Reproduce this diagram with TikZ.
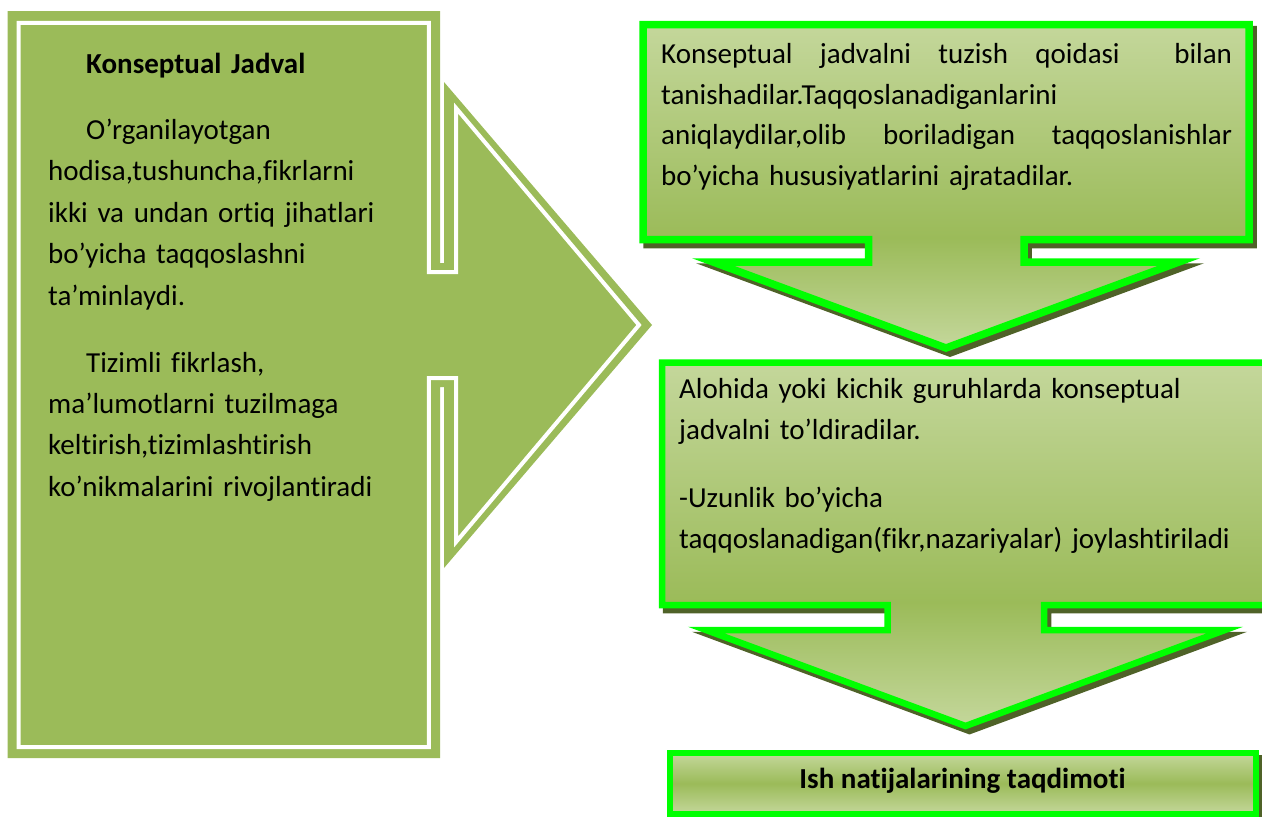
\documentclass[tikz,border=0pt]{standalone}
\usepackage{fontspec}
\setmainfont{Carlito}[Ligatures={NoCommon}]
\definecolor{cLight}{HTML}{C4D79B}
\definecolor{cDark}{HTML}{9BBB59}
\definecolor{cShadow}{HTML}{4F6228}
\definecolor{cLine}{HTML}{00FF00}
\pgfdeclareverticalshading{calloutshade}{100bp}{color(0bp)=(cLight); color(25bp)=(cLight); color(42bp)=(cDark); color(75bp)=(cLight); color(100bp)=(cLight)}
\tikzset{
  calloutfill/.style={shade, shading=calloutshade, draw=cLine, line join=miter},
  calloutshadow/.style={fill=cShadow, draw=cShadow, line join=miter},
  txt/.style={inner sep=0pt, anchor=base west, align=left},
  topshape/.style={insert path={(643,24.5) -- (1249,24.5) -- (1249,239.5) -- (1024,239.5) -- (1024,262) -- (1179,262) -- (946,348) -- (713,262) -- (868.5,262) -- (868.5,239.5) -- (643,239.5) -- cycle}},
  midshape/.style={insert path={(662,362.5) -- (1269,362.5) -- (1269,605) -- (1044,605) -- (1044,630) -- (1225,630) -- (965.5,726) -- (706,630) -- (887.5,630) -- (887.5,605) -- (662,605) -- cycle}},
}
\begin{document}
\begin{tikzpicture}[x=1pt,y=-1pt]
\useasboundingbox (0,0) rectangle (1262,817);
\clip (0,0) rectangle (1262,817);

% left arrow callout
\fill[cDark] (7.7,11) -- (440,11) -- (440,263) -- (444,263) -- (444,82) -- (652,325) -- (444,568) -- (444,387) -- (440,387) -- (440,758) -- (7.7,758) -- cycle;
\draw[white, line width=4pt, line join=miter] (18.7,22.8) -- (428.8,22.8) -- (428.8,272) -- (456,272) -- (456,108) -- (639,325) -- (456,542) -- (456,378) -- (428.8,378) -- (428.8,747) -- (18.7,747) -- cycle;

\node[txt, text width=380pt, font=\fontsize{29}{41.4}\selectfont] (lt) at (48,73)
 {\hspace*{38pt}\textbf{Konseptual Jadval}\\[25pt]
  \hspace*{38pt}O’rganilayotgan\\
  hodisa,tushuncha,fikrlarni\\
  ikki va undan ortiq jihatlari\\
  bo’yicha taqqoslashni\\
  ta’minlaydi.\\[25.6pt]
  \hspace*{38pt}Tizimli fikrlash,\\
  ma’lumotlarni tuzilmaga\\
  keltirish,tizimlashtirish\\
  ko’nikmalarini rivojlantiradi};

% top down-arrow callout
\path[calloutshadow, line width=7.5pt, shift={(4,5)}, topshape];
\path[calloutfill, line width=7.5pt, topshape];
\node[txt, text width=575pt, font=\fontsize{29}{40.8}\selectfont] (tt) at (661,63.3)
 {\makebox[571pt][s]{Konseptual\hfill jadvalni\hfill tuzish\hfill qoidasi\hfill\hfill bilan}\\
  tanishadilar.Taqqoslanadiganlarini\\
  \makebox[571pt][s]{aniqlaydilar,olib\hfill boriladigan\hfill taqqoslanishlar}\\
  bo’yicha hususiyatlarini ajratadilar.};

% middle down-arrow callout
\path[calloutshadow, line width=6.5pt, shift={(4,5)}, midshape];
\path[calloutfill, line width=6.5pt, midshape];
\node[txt, text width=575pt, font=\fontsize{29}{41.5}\selectfont] (mt) at (679,398)
 {Alohida yoki kichik guruhlarda konseptual\\
  jadvalni to’ldiradilar.\\[26pt]
  -Uzunlik bo’yicha\\
  taqqoslanadigan(fikr,nazariyalar) joylashtiriladi};

% bottom box
\path[fill=cShadow, draw=cShadow, line width=6pt] (674,758) rectangle (1260,819);
\path[shade, top color=cLight, bottom color=cLight, middle color=cDark, draw=cLine, line width=6pt] (670,753) rectangle (1256,814);
\node[inner sep=0pt, anchor=base, font=\fontsize{29}{35}\selectfont\bfseries] (bt) at (962.5,788) {Ish natijalarining taqdimoti};
\end{tikzpicture}
\end{document}
